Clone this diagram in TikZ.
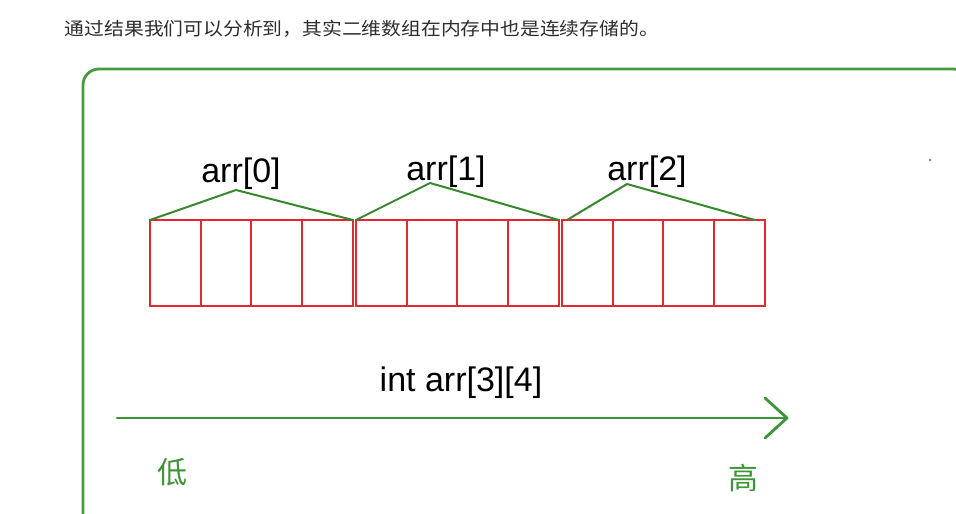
\documentclass[tikz,border=0pt]{standalone}
\usepackage{fontspec}
\setmainfont{Liberation Sans}
\newfontfamily\cjk{Noto Sans CJK SC}
\definecolor{framegreen}{RGB}{70,155,60}
\definecolor{brgreen}{RGB}{55,135,45}
\definecolor{arrgreen}{RGB}{60,150,55}
\definecolor{cellred}{RGB}{228,40,50}
\definecolor{hdr}{RGB}{45,45,45}
\begin{document}
\begin{tikzpicture}[x=1pt,y=-1pt,
  cell/.style={draw=cellred,line width=2.1pt,minimum width=50.7pt,minimum height=86pt,inner sep=0pt,outer sep=0pt,anchor=north west},
  bracketline/.style={draw=brgreen,line width=2pt,line join=round},
  lab/.style={inner sep=0pt,font=\fontsize{34}{34}\selectfont,text=black},
  cjklab/.style={inner sep=0pt,font=\cjk\fontsize{30}{30}\selectfont,text=arrgreen},
  arrowline/.style={draw=arrgreen,line width=2.8pt,line cap=round,line join=round}]
\useasboundingbox (0,0) rectangle (956,514);
\fill[white] (0,0) rectangle (956,514);
\begin{scope}
\clip (0,0) rectangle (956,514);
\draw[framegreen,line width=2.8pt,rounded corners=16pt] (83,560) -- (83,69) -- (969,69) -- (969,560);
\end{scope}
\fill[gray] (930,160) circle (1.3pt);
\node[inner sep=0pt,text=hdr] (title) at (362,29) {\cjk\fontsize{18}{18}\selectfont\scalebox{1.1}[1]{通过结果我们可以分析到，其实二维数组在内存中也是连续存储的。}};
\foreach \g/\x in {0/150,1/356,2/562}{
  \foreach \i in {0,...,3}{
    \node[cell] (c\g\i) at ({\x+50.7*\i},220) {};
  }
}
\coordinate (p0) at (236,190);
\coordinate (p1) at (430,183);
\coordinate (p2) at (627,184);
\draw[bracketline] (c00.north west) -- (p0) -- (c03.north east);
\draw[bracketline] (c10.north west) -- (p1) -- (c13.north east);
\draw[bracketline] ([xshift=5pt]c20.north west) -- (p2) -- ([xshift=-10pt]c23.north east);
\node[lab] (l0) at (241,174) {arr[0]};
\node[lab] (l1) at (446,172) {arr[1]};
\node[lab] (l2) at (647,172) {arr[2]};
\node[lab] (decl) at (461,383) {int arr[3][4]};
\coordinate (as) at (117,418);
\coordinate (at) at (787,418);
\coordinate (aw1) at (765,398);
\coordinate (aw2) at (765,438);
\draw[arrowline] (as) -- (at);
\draw[arrowline] (aw1) -- (at) -- (aw2);
\node[cjklab] (lo) at (172,472) {低};
\node[cjklab] (hi) at (743,478) {高};
\end{tikzpicture}
\end{document}
